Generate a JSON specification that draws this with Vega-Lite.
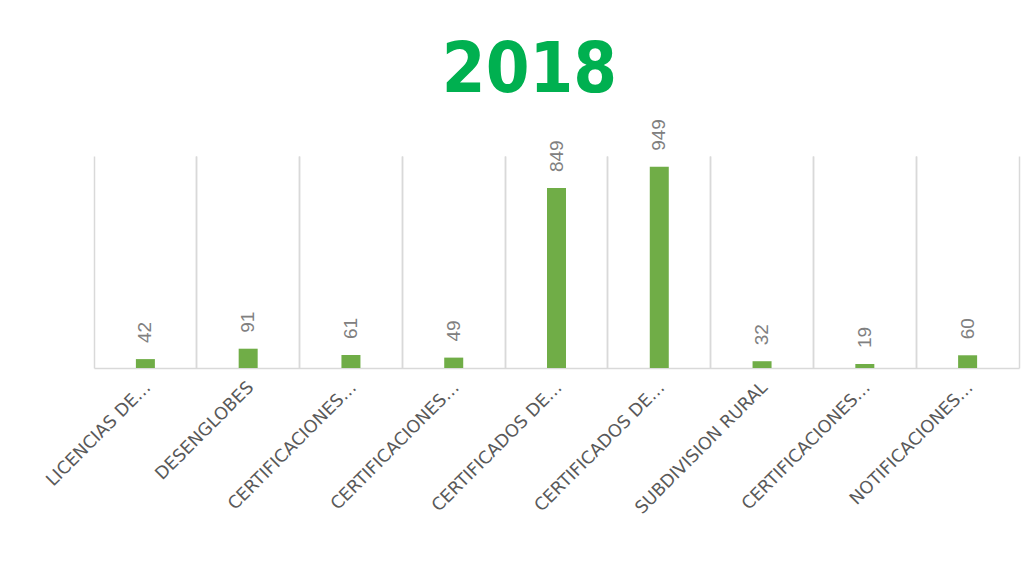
{
  "$schema": "https://vega.github.io/schema/vega-lite/v6.json",
  "width": 925,
  "height": 212,
  "autosize": {"type": "none"},
  "padding": {"left": 94, "top": 156, "right": 15, "bottom": 208},
  "background": "white",
  "title": {
    "text": "2018",
    "font": "DejaVu Sans Condensed, DejaVu Sans, sans-serif",
    "fontWeight": "bold",
    "fontSize": 70,
    "color": "#00B050",
    "anchor": "middle",
    "frame": "group",
    "dx": -27,
    "offset": 12
  },
  "data": {
    "values": [
      {"id": 1, "label": "LICENCIAS DE…", "value": 42},
      {"id": 2, "label": "DESENGLOBES", "value": 91},
      {"id": 3, "label": "CERTIFICACIONES…", "value": 61},
      {"id": 4, "label": "CERTIFICACIONES…", "value": 49},
      {"id": 5, "label": "CERTIFICADOS DE…", "value": 849},
      {"id": 6, "label": "CERTIFICADOS DE…", "value": 949},
      {"id": 7, "label": "SUBDIVISION RURAL", "value": 32},
      {"id": 8, "label": "CERTIFICACIONES…", "value": 19},
      {"id": 9, "label": "NOTIFICACIONES…", "value": 60}
    ]
  },
  "layer": [
    {
      "mark": {"type": "bar", "size": 19, "color": "#70AD47"},
      "encoding": {
        "x": {
          "field": "id",
          "type": "ordinal",
          "scale": {"paddingInner": 0, "paddingOuter": 0},
          "axis": {
            "orient": "bottom",
            "title": null,
            "labels": false,
            "ticks": false,
            "grid": true,
            "bandPosition": 0,
            "gridColor": "#D9D9D9",
            "gridWidth": 1.5,
            "domainColor": "#D9D9D9",
            "domainWidth": 1.5
          }
        },
        "y": {
          "field": "value",
          "type": "quantitative",
          "scale": {"domain": [0, 1000], "nice": false},
          "axis": null
        }
      }
    },
    {
      "mark": {
        "type": "text",
        "angle": 270,
        "align": "left",
        "baseline": "middle",
        "dx": 16,
        "font": "Liberation Sans",
        "fontSize": 19,
        "color": "#808080"
      },
      "encoding": {
        "x": {
          "field": "id",
          "type": "ordinal",
          "axis": {
            "orient": "top",
            "title": null,
            "labels": false,
            "ticks": false,
            "domain": false,
            "grid": true,
            "bandPosition": 1,
            "gridColor": "#D9D9D9",
            "gridWidth": 1.5
          }
        },
        "y": {"field": "value", "type": "quantitative"},
        "text": {"field": "value", "type": "quantitative"}
      }
    },
    {
      "mark": {
        "type": "text",
        "angle": 315,
        "align": "right",
        "baseline": "middle",
        "dx": -10,
        "dy": 14,
        "font": "DejaVu Sans",
        "fontSize": 17.5,
        "color": "#595959"
      },
      "encoding": {
        "x": {"field": "id", "type": "ordinal", "axis": null},
        "y": {"datum": 0, "type": "quantitative"},
        "text": {"field": "label", "type": "nominal"}
      }
    }
  ],
  "resolve": {"axis": {"x": "independent"}},
  "config": {"view": {"stroke": null}}
}
